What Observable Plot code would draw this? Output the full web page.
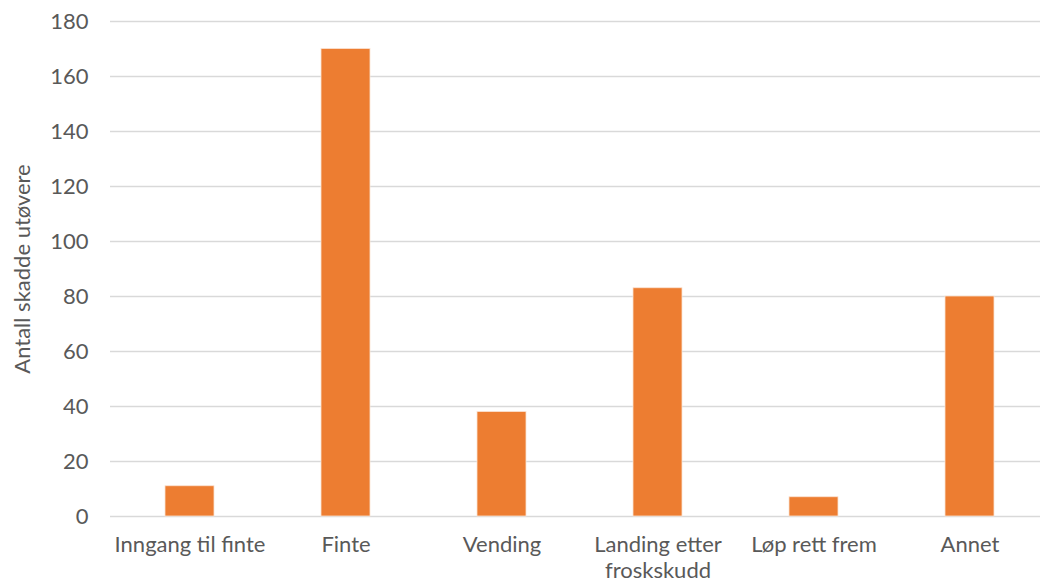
<!DOCTYPE html>
<html>
<head>
<meta charset="utf-8">
<script src="https://cdn.jsdelivr.net/npm/d3@7"></script>
<script src="https://cdn.jsdelivr.net/npm/@observablehq/plot@0.6"></script>
<style>
  html, body { margin: 0; padding: 0; background: #fff; overflow: hidden; }
  #chart svg { display: block; }
</style>
</head>
<body>
<div id="chart"></div>
<script>
// Injury situations and number of injured athletes
const categories = ["Inngang til finte", "Finte", "Vending", "Landing etter froskskudd", "Løp rett frem", "Annet"];
const counts = [11, 170, 38, 83, 7, 80];
const yTicks = [0, 20, 40, 60, 80, 100, 120, 140, 160, 180];
const yLabel = "Antall skadde utøvere";

// Labels that wrap onto two lines under the axis
const tickText = {"Landing etter froskskudd": "Landing etter\nfroskskudd"};

const data = categories.map((c, i) => ({category: c, count: counts[i]}));

const textColor = "#595959";
const font = "Lato, 'Open Sans', sans-serif";
const fontSize = 22;

const chart = Plot.plot({
  width: 1040,
  height: 586,
  marginTop: 21,
  marginBottom: 70,
  marginLeft: 110,
  marginRight: 0,
  style: {fontFamily: font, fontSize: `${fontSize}px`, color: textColor, background: "#fff"},
  x: {domain: categories, range: [110.3, 1048.6], paddingInner: 0.683, paddingOuter: 0.3415},
  y: {domain: [0, 180]},
  marks: [
    Plot.gridY(yTicks, {stroke: "#d9d9d9", strokeOpacity: 1, strokeWidth: 1.6}),
    Plot.barY(data, {x: "category", y: "count", fill: "#ED7D31", stroke: "#fbe3d3", strokeWidth: 0.8}),
    Plot.axisY(yTicks, {tickSize: 0, tickPadding: 22, label: null, fill: textColor, fontSize}),
    Plot.axisX({tickSize: 0, tickPadding: 17, label: null, fill: textColor, fontSize, lineHeight: 1.17,
      tickFormat: d => tickText[d] ?? d}),
    Plot.text([yLabel], {frameAnchor: "left", dx: -88, rotate: -90, textAnchor: "middle",
      text: d => d, fill: textColor, fontSize})
  ]
});

document.getElementById("chart").appendChild(chart);
</script>
</body>
</html>
